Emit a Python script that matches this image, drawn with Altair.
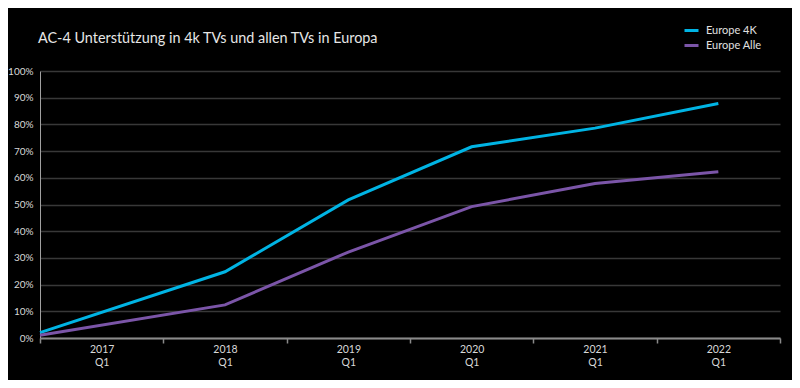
import altair as alt
import pandas as pd

# x positions in years (first point sits at the left edge of the axis)
x_years = [2016.5, 2018, 2019, 2020, 2021, 2022]
europe_4k = [2.0, 24.8, 51.7, 71.6, 78.6, 87.8]
europe_alle = [1.0, 12.4, 32.2, 49.2, 57.9, 62.3]
series_names = ["Europe 4K", "Europe Alle"]
series_colors = ["#00B4E4", "#7B55A8"]
y_ticks = [0, 10, 20, 30, 40, 50, 60, 70, 80, 90, 100]
x_ticks = [2016.5, 2017.5, 2018.5, 2019.5, 2020.5, 2021.5, 2022.5]

rows = []
for x, a, b in zip(x_years, europe_4k, europe_alle):
    rows.append({"x": x, "serie": series_names[0], "v": a / 100})
    rows.append({"x": x, "serie": series_names[1], "v": b / 100})
df = pd.DataFrame(rows)

FONT = "Lato"

chart = alt.Chart(df).mark_line(strokeWidth=3).encode(
    x=alt.X("x:Q",
            scale=alt.Scale(domain=[2016.5, 2022.5], nice=False, zero=False),
            axis=alt.Axis(values=x_ticks, title=None, grid=False,
                          labelExpr="datum.value < 2022.4 ? [toString(floor(datum.value + 0.5)), 'Q1'] : ''",
                          labelOffset=61.7, labelOverlap=False, labelFlush=False, labelBound=False,
                          labelColor="#d8d8d8", labelFontSize=10.5, labelFont=FONT,
                          labelLineHeight=13, labelPadding=1,
                          tickColor="#8a8a8a", tickSize=5, tickWidth=1.5,
                          domainColor="#8a8a8a", domainWidth=2)),
    y=alt.Y("v:Q",
            scale=alt.Scale(domain=[0, 1], nice=False),
            axis=alt.Axis(values=[t / 100 for t in y_ticks], format=".0%", title=None,
                          labelColor="#d8d8d8", labelFontSize=10, labelFont=FONT,
                          labelPadding=7, ticks=False, labelFlush=False,
                          gridColor="#383838", gridWidth=1.5,
                          domainColor="#a0a0a0", domainWidth=1)),
    color=alt.Color("serie:N",
                    scale=alt.Scale(domain=series_names, range=series_colors),
                    legend=alt.Legend(title=None, orient="none", legendX=643, legendY=-49,
                                      symbolType="stroke", symbolSize=196, symbolStrokeWidth=3,
                                      labelColor="#e0e0e0", labelFontSize=11, labelFont=FONT,
                                      rowPadding=0, labelOffset=6)),
).properties(
    width=740, height=267,
    title=alt.TitleParams("AC-4 Unterstützung in 4k TVs und allen TVs in Europa",
                          anchor="start", frame="group", color="#e6e6e6", fontSize=14.4, font=FONT,
                          fontWeight="normal", offset=24, dx=-2, dy=48),
    autosize=alt.AutoSizeParams(type="none"),
    padding={"left": 32, "top": 63, "right": 12, "bottom": 42},
).configure(background="black").configure_view(stroke=None)

chart.save("out.html", embed_options={"renderer": "svg", "actions": False})
